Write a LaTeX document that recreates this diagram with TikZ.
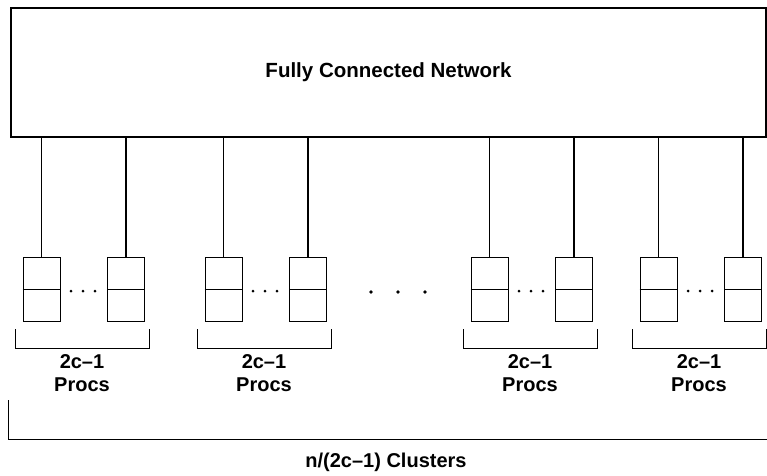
\documentclass[tikz,border=0pt]{standalone}
\usepackage{fontspec}
\setmainfont{Liberation Sans}
\usepackage{tikz}
\usetikzlibrary{positioning,calc}
\tikzset{
  netbox/.style={draw,line width=1.1pt,minimum width=755pt,minimum height=129pt,inner sep=0pt,font=\fontsize{20.5}{24}\selectfont\bfseries},
  procbox/.style={draw,line width=0.7pt,minimum width=37pt,minimum height=64pt,inner sep=0pt},
  link/.style={line width=1.6pt},
  bracket/.style={line width=0.7pt},
  lbl/.style={align=center,font=\fontsize{20}{23}\selectfont\bfseries}
}

\begin{document}
\begin{tikzpicture}[x=1pt,y=-1pt]
  \useasboundingbox (0,0) rectangle (767,475);
  \node[netbox] (net) at (388.5,72.5) {Fully Connected Network};
  \foreach \cx/\nm in {23/a, 205/b, 471/c, 640/d} {
    \node[procbox] (\nm1) at (\cx+18.5,289.5) {};
    \node[procbox, right=47pt of \nm1] (\nm2) {};
    \draw[bracket] (\nm1.west) -- (\nm1.east);
    \draw[bracket] (\nm2.west) -- (\nm2.east);
    \draw[link] (\nm1.north |- net.south) -- (\nm1.north);
    \draw[link] (\nm2.north |- net.south) -- (\nm2.north);
    \foreach \dx in {48,60,72}
      \fill (\cx+\dx,291) circle (1.5pt);
    \draw[bracket] (\cx-8,329) -- (\cx-8,348) -- (\cx+126,348) -- (\cx+126,329);
    \node[lbl] (\nm lbl) at (\cx+59,373) {2c--1\\Procs};
  }
  % dots between the clusters
  \foreach \dx in {371,398,425}
    \fill (\dx,292) circle (1.8pt);
  \draw[bracket] (8,400) -- (8,439) -- (767,439);
  \node[lbl] (all) at (386,462) {n/(2c--1) Clusters};
\end{tikzpicture}
\end{document}
